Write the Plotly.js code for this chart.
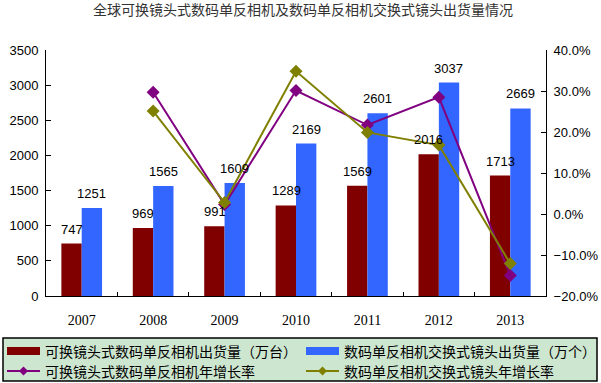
<!DOCTYPE html>
<html>
<head>
<meta charset="utf-8">
<script src="https://cdn.plot.ly/plotly-3.0.1.min.js"></script>
<style>html,body{margin:0;padding:0;background:#fff;}#chart{width:601px;height:383px;}</style>
</head>
<body>
<div id="chart"></div>
<script>
// ---- data ----
var years = ['2007', '2008', '2009', '2010', '2011', '2012', '2013'];
var cameraShipments = [747, 969, 991, 1289, 1569, 2016, 1713];
var lensShipments = [1251, 1565, 1609, 2169, 2601, 3037, 2669];
var cameraGrowth = [null, 0.297, 0.023, 0.301, 0.217, 0.285, -0.150];
var lensGrowth = [null, 0.251, 0.028, 0.348, 0.199, 0.168, -0.121];
var seriesNames = [
  '可换镜头式数码单反相机出货量（万台）',
  '数码单反相机交换式镜头出货量（万个）',
  '可换镜头式数码单反相机年增长率',
  '数码单反相机交换式镜头年增长率'
];
var chartTitle = '全球可换镜头式数码单反相机及数码单反相机交换式镜头出货量情况';

// ---- style ----
var W = 601, H = 383;
var M = {l: 46, r: 55, t: 50, b: 87};
var colRed = '#800000', colBlue = '#3366FF', colPurple = '#800080', colOlive = '#808000';
var latin = 'Arial, "Liberation Sans", sans-serif';
var cjk = '"Noto Sans CJK SC", sans-serif';

function px(x) { return (x - M.l) / (W - M.l - M.r); }
function py(y) { return (H - M.b - y) / (H - M.t - M.b); }

var traces = [
  {type: 'bar', x: years, y: cameraShipments, name: seriesNames[0], marker: {color: colRed}, hoverinfo: 'skip'},
  {type: 'bar', x: years, y: lensShipments, name: seriesNames[1], marker: {color: colBlue}, hoverinfo: 'skip'},
  {type: 'scatter', mode: 'lines+markers', x: years, y: cameraGrowth, yaxis: 'y2', name: seriesNames[2],
   line: {color: colPurple, width: 2}, marker: {symbol: 'diamond', size: 10, color: colPurple}},
  {type: 'scatter', mode: 'lines+markers', x: years, y: lensGrowth, yaxis: 'y2', name: seriesNames[3],
   line: {color: colOlive, width: 2}, marker: {symbol: 'diamond', size: 10, color: colOlive}}
];

var annotations = [];
var shapes = [];
years.forEach(function (yr, i) {
  // category axis: annotation x given as category index
  annotations.push({x: i, y: cameraShipments[i], xref: 'x', yref: 'y', text: String(cameraShipments[i]),
    showarrow: false, xshift: -10, yanchor: 'bottom', yshift: 5, font: {family: latin, size: 13, color: '#000'}});
  annotations.push({x: i, y: lensShipments[i], xref: 'x', yref: 'y', text: String(lensShipments[i]),
    showarrow: false, xshift: 10, yanchor: 'bottom', yshift: 5, font: {family: latin, size: 13, color: '#000'}});
});

// manual legend box
shapes.push({type: 'rect', xref: 'paper', yref: 'paper', x0: px(3), x1: px(597), y0: py(338), y1: py(381),
  fillcolor: '#CDE6CF', line: {color: '#000', width: 1.5}, layer: 'below'});
var legendItems = [
  {kind: 'bar', color: colRed, x: 7, y: 351, name: seriesNames[0]},
  {kind: 'bar', color: colBlue, x: 306, y: 351, name: seriesNames[1]},
  {kind: 'line', color: colPurple, x: 7, y: 371, name: seriesNames[2]},
  {kind: 'line', color: colOlive, x: 306, y: 371, name: seriesNames[3]}
];
legendItems.forEach(function (it) {
  if (it.kind === 'bar') {
    shapes.push({type: 'rect', xref: 'paper', yref: 'paper', x0: px(it.x), x1: px(it.x + 33),
      y0: py(it.y - 4), y1: py(it.y + 4), fillcolor: it.color, line: {width: 0}});
  } else {
    shapes.push({type: 'line', xref: 'paper', yref: 'paper', x0: px(it.x), x1: px(it.x + 33),
      y0: py(it.y), y1: py(it.y), line: {color: it.color, width: 2}});
    var cx = it.x + 16.5, cy = it.y, d = 4.5;
    shapes.push({type: 'path', xref: 'paper', yref: 'paper',
      path: 'M' + px(cx) + ',' + py(cy - d) + ' L' + px(cx + d) + ',' + py(cy) + ' L' + px(cx) + ',' + py(cy + d) + ' L' + px(cx - d) + ',' + py(cy) + ' Z',
      fillcolor: it.color, line: {width: 0}});
  }
  annotations.push({xref: 'paper', yref: 'paper', x: px(it.x + 36), y: py(it.y), xanchor: 'left', yanchor: 'middle',
    text: it.name, showarrow: false, font: {family: cjk, size: 14, color: '#000'}});
});

var layout = {
  width: W, height: H,
  margin: M,
  paper_bgcolor: '#fff', plot_bgcolor: '#fff',
  showlegend: false,
  title: {text: chartTitle, font: {family: cjk, size: 14, color: '#333'}, xref: 'container', yref: 'container',
    x: 303 / W, xanchor: 'center', y: 1 - 10 / H, yanchor: 'middle'},
  barmode: 'group', bargap: 0.43, bargroupgap: 0,
  xaxis: {type: 'category', range: [-0.5, years.length - 0.5], autorange: false,
    showline: true, linecolor: '#000', linewidth: 1, ticks: 'inside', ticklen: 4,
    tickcolor: '#000', tickson: 'boundaries', showgrid: false, zeroline: false, ticklabelstandoff: 11,
    tickfont: {family: '"Liberation Serif", serif', size: 14, color: '#000'}},
  yaxis: {range: [0, 3500], autorange: false, dtick: 500, showline: true, linecolor: '#000', linewidth: 1, ticks: 'inside', ticklen: 5,
    tickcolor: '#000', showgrid: false, zeroline: false, ticklabelstandoff: 4,
    tickfont: {family: latin, size: 13, color: '#000'}},
  yaxis2: {overlaying: 'y', side: 'right', range: [-0.2, 0.4], autorange: false, dtick: 0.1, tickformat: '.1%', showline: true,
    linecolor: '#000', linewidth: 1, ticks: 'inside', ticklen: 5, tickcolor: '#000', showgrid: false, zeroline: false,
    ticklabelstandoff: 4, tickfont: {family: latin, size: 13, color: '#000'}},
  annotations: annotations,
  shapes: shapes
};

Plotly.newPlot('chart', traces, layout, {displayModeBar: false, staticPlot: true});
</script>
</body>
</html>
